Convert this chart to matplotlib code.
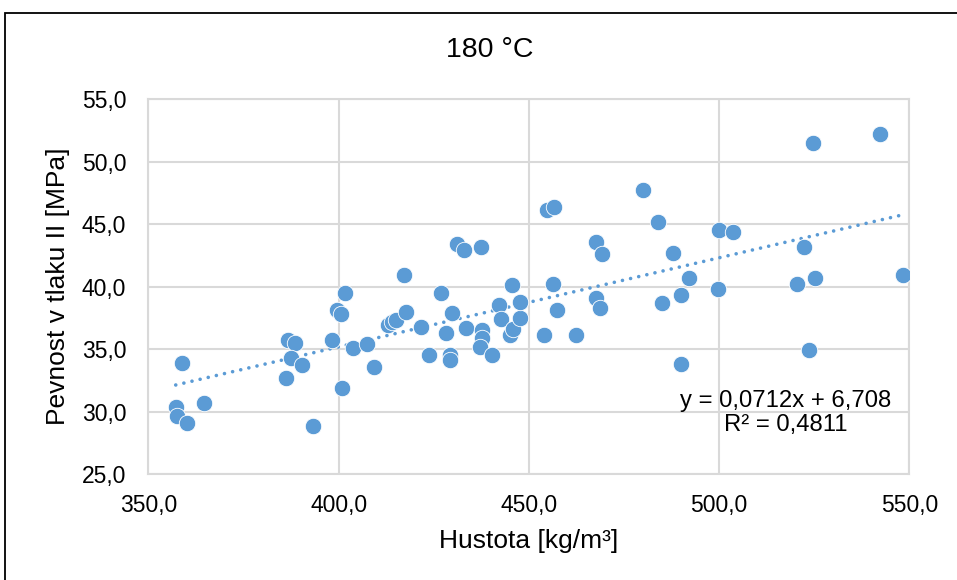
import numpy as np
import matplotlib
matplotlib.use("Agg")
import matplotlib.pyplot as plt
from matplotlib.patches import Rectangle
from matplotlib.ticker import FuncFormatter, MultipleLocator

# ----------------------------------------------------------------------
# Data: density [kg/m3] vs compressive strength [MPa]
# ----------------------------------------------------------------------
hustota = [
    357.2, 357.5, 358.8, 360.1, 364.5, 386.2, 386.8, 388.5, 387.5, 390.5,
    393.2, 398.2, 399.5, 400.6, 401.8, 400.8, 403.7, 407.4, 409.4, 413.1,
    414.0, 415.1, 417.6, 417.2, 421.6, 423.8, 426.9, 429.7, 428.2, 429.3,
    429.3, 431.0, 433.0, 433.5, 437.4, 437.6, 437.6, 437.2, 440.4, 442.1,
    442.8, 445.6, 445.0, 445.9, 447.7, 447.8, 454.0, 454.7, 456.6, 456.3,
    457.4, 462.5, 467.7, 469.2, 467.7, 468.8, 480.0, 483.9, 484.9, 487.9,
    489.9, 492.0, 489.9, 499.9, 503.6, 499.8, 520.5, 522.3, 525.2, 523.7,
    524.6, 542.2, 548.4,
]
pevnost = [
    30.4, 29.7, 33.9, 29.1, 30.7, 32.7, 35.7, 35.5, 34.3, 33.7,
    28.9, 35.7, 38.1, 37.8, 39.5, 31.9, 35.1, 35.4, 33.6, 36.9,
    37.2, 37.3, 38.0, 40.9, 36.8, 34.5, 39.5, 37.9, 36.3, 34.5,
    34.1, 43.4, 42.9, 36.7, 43.2, 36.5, 35.9, 35.2, 34.5, 38.5,
    37.4, 40.1, 36.1, 36.6, 37.5, 38.8, 36.1, 46.1, 46.4, 40.2,
    38.1, 36.1, 43.6, 42.6, 39.1, 38.3, 47.7, 45.2, 38.7, 42.7,
    39.3, 40.7, 33.8, 44.5, 44.4, 39.8, 40.2, 43.2, 40.7, 34.9,
    51.5, 52.2, 40.9,
]

# linear trendline as reported on the chart
slope = 0.0712
intercept = 6.708
r2 = 0.4811

title = "180 °C"
xlabel = "Hustota [kg/m³]"
ylabel = "Pevnost v tlaku II [MPa]"

blue = "#5B9BD5"
grid_col = "#D9D9D9"

plt.rcParams["font.family"] = ["Liberation Sans", "DejaVu Sans"]

fig = plt.figure(figsize=(9.57, 5.8), dpi=100)
ax = fig.add_axes([0.155, 0.1822, 0.7952, 0.6471])

ax.scatter(hustota, pevnost, s=140, color=blue, edgecolor="white",
           linewidth=0.6, zorder=3)

# trendline over the data range
xt = np.array([min(hustota), max(hustota)])
ax.plot(xt, slope * xt + intercept, color=blue, lw=2.6,
        linestyle=(0, (0.01, 2.3)), dash_capstyle="round", zorder=2)

eq = f"y = {slope:.4f}x + {intercept:.3f}\nR² = {r2:.4f}".replace(".", ",")
ax.text(517.6, 29.9, eq, ha="center", va="center", fontsize=17.2,
        linespacing=1.1, zorder=4)

ax.set_xlim(350, 550)
ax.set_ylim(25, 55)
ax.xaxis.set_major_locator(MultipleLocator(50))
ax.yaxis.set_major_locator(MultipleLocator(5))
fmt = FuncFormatter(lambda v, p: f"{v:.1f}".replace(".", ","))
ax.xaxis.set_major_formatter(fmt)
ax.yaxis.set_major_formatter(fmt)
ax.tick_params(length=0, labelsize=16.5, pad=16)
ax.tick_params(axis="x", pad=14)

ax.grid(True, color=grid_col, lw=1.5, zorder=0)
ax.set_axisbelow(True)
for sp in ax.spines.values():
    sp.set_color(grid_col)
    sp.set_linewidth(1.5)

ax.set_xlabel(xlabel, fontsize=19)
ax.xaxis.set_label_coords(0.5, -0.145)
ax.set_ylabel(ylabel, fontsize=19)
ax.yaxis.set_label_coords(-0.103, 0.5)

fig.text(0.512, 0.914, title, ha="center", va="center", fontsize=20.5)

# outer chart border (cut off on the right and bottom)
fig.add_artist(Rectangle((4.5 / 957, -0.1), 1.2, 0.1 + 1 - 12.5 / 580,
                         transform=fig.transFigure, fill=False,
                         edgecolor="black", lw=1.3))

fig.savefig("out.png", dpi=100)
